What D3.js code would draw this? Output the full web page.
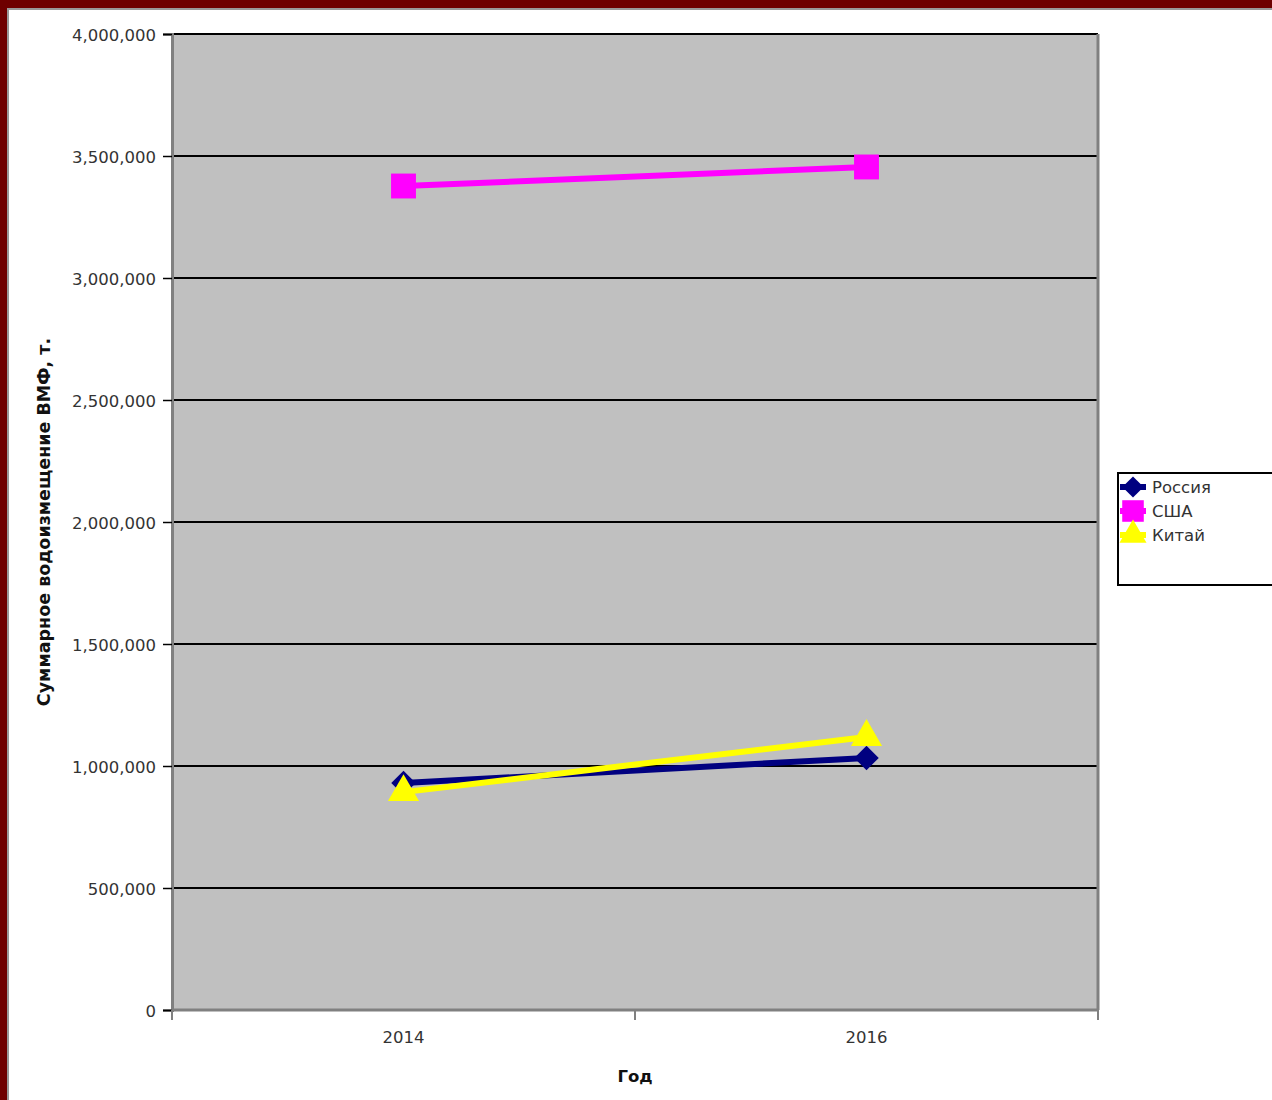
<!DOCTYPE html>
<html><head><meta charset="utf-8">
<script src="https://cdn.jsdelivr.net/npm/d3@7"></script>
<style>body{margin:0;background:#fff;} svg{display:block;}</style>
</head><body>
<script>
const years = ["2014", "2016"];
const russia = [930000, 1033000];
const usa = [3377000, 3455000];
const china = [893000, 1119000];
const seriesNames = ["Россия", "США", "Китай"];
const yTicks = [0, 500000, 1000000, 1500000, 2000000, 2500000, 3000000, 3500000, 4000000];

const W = 1272, H = 1100;
const svg = d3.select("body").append("svg").attr("width", W).attr("height", H);
svg.append("rect").attr("width", W).attr("height", H).attr("fill", "#fff");
// frame
svg.append("rect").attr("x", 0).attr("y", 0).attr("width", W).attr("height", 8).attr("fill", "#6e0000");
svg.append("rect").attr("x", 0).attr("y", 0).attr("width", 7).attr("height", H).attr("fill", "#6e0000");
svg.append("line").attr("x1", 7).attr("x2", W).attr("y1", 9).attr("y2", 9).attr("stroke", "#999").attr("stroke-width", 2);
svg.append("line").attr("x1", 8).attr("x2", 8).attr("y1", 9).attr("y2", H).attr("stroke", "#999").attr("stroke-width", 2);

const L = 172, R = 1098, T = 34, B = 1010;
const x = d3.scaleBand().domain(years).range([L, R]);
const y = d3.scaleLinear().domain([0, 4000000]).range([B, T]);
const font = "DejaVu Sans, Verdana, sans-serif";

svg.append("rect").attr("x", L).attr("y", T).attr("width", R - L).attr("height", B - T).attr("fill", "#c0c0c0");

// gridlines
svg.append("g").selectAll("line").data(yTicks.filter(d => d > 0)).join("line")
  .attr("x1", L).attr("x2", R).attr("y1", d => y(d)).attr("y2", d => y(d))
  .attr("stroke", "#000").attr("stroke-width", 2);

// plot borders
svg.append("line").attr("x1", R).attr("x2", R).attr("y1", T).attr("y2", B).attr("stroke", "#808080").attr("stroke-width", 3);
svg.append("line").attr("x1", L).attr("x2", R).attr("y1", B).attr("y2", B).attr("stroke", "#808080").attr("stroke-width", 3);

// y axis
const yAxis = d3.axisLeft(y).tickValues(yTicks).tickFormat(d3.format(",")).tickSize(9).tickPadding(6);
const gy = svg.append("g").attr("transform", `translate(${L},0)`).call(yAxis);
gy.select(".domain").attr("stroke", "#808080").attr("stroke-width", 3);
gy.selectAll(".tick line").attr("stroke", "#000").attr("stroke-width", 1.5);
gy.selectAll(".tick text").attr("font-family", font).attr("font-size", 16.5).attr("fill", "#333").attr("dx", -1).attr("dy", "0.4em");

// x axis
const xTickPos = [L, (L + R) / 2, R];
svg.append("g").selectAll("line").data(xTickPos).join("line")
  .attr("x1", d => d).attr("x2", d => d).attr("y1", B).attr("y2", B + 10)
  .attr("stroke", "#808080").attr("stroke-width", 2);
svg.append("g").selectAll("text").data(years).join("text")
  .attr("x", d => x(d) + x.bandwidth() / 2).attr("y", 1043)
  .attr("text-anchor", "middle").attr("font-family", font).attr("font-size", 16.5).attr("fill", "#333")
  .text(d => d);

// titles
svg.append("text").attr("x", 635).attr("y", 1082).attr("text-anchor", "middle")
  .attr("font-family", font).attr("font-size", 16.5).attr("font-weight", "bold").attr("fill", "#111").text("Год");
svg.append("text").attr("transform", "translate(50,522) rotate(-90)").attr("text-anchor", "middle")
  .attr("font-family", font).attr("font-size", 17.5).attr("font-weight", "bold").attr("fill", "#111")
  .text("Суммарное водоизмещение ВМФ, т.");

// series
const series = [
  {name: seriesNames[0], values: russia, color: "#000080", symbol: d3.symbolSquare, size: 300, rot: 45},
  {name: seriesNames[1], values: usa, color: "#ff00ff", symbol: d3.symbolSquare, size: 620, rot: 0},
  {name: seriesNames[2], values: china, color: "#ffff00", symbol: d3.symbolTriangle, size: 420, rot: 0}
];
const cx = d => x(d) + x.bandwidth() / 2;
const line = d3.line().x((d, i) => cx(years[i])).y(d => y(d));
series.forEach(s => {
  const g = svg.append("g");
  g.append("path").attr("d", line(s.values)).attr("fill", "none").attr("stroke", s.color).attr("stroke-width", 6);
  g.selectAll("path.m").data(s.values).join("path").attr("class", "m")
    .attr("transform", (d, i) => `translate(${cx(years[i])},${y(d)}) rotate(${s.rot})`)
    .attr("d", d3.symbol().type(s.symbol).size(s.size)).attr("fill", s.color);
});

// legend
const lg = svg.append("g");
lg.append("rect").attr("x", 1118).attr("y", 473).attr("width", 160).attr("height", 112)
  .attr("fill", "#fff").attr("stroke", "#000").attr("stroke-width", 2);
series.forEach((s, i) => {
  const yy = 487 + i * 24;
  lg.append("line").attr("x1", 1120).attr("x2", 1146).attr("y1", yy).attr("y2", yy).attr("stroke", s.color).attr("stroke-width", 6);
  lg.append("path").attr("transform", `translate(1133,${yy}) rotate(${s.rot})`)
    .attr("d", d3.symbol().type(s.symbol).size(s.size * 0.75)).attr("fill", s.color);
  lg.append("text").attr("x", 1152).attr("y", yy + 6).attr("font-family", font).attr("font-size", 16.5)
    .attr("fill", "#333").text(s.name);
});
</script>
</body></html>
